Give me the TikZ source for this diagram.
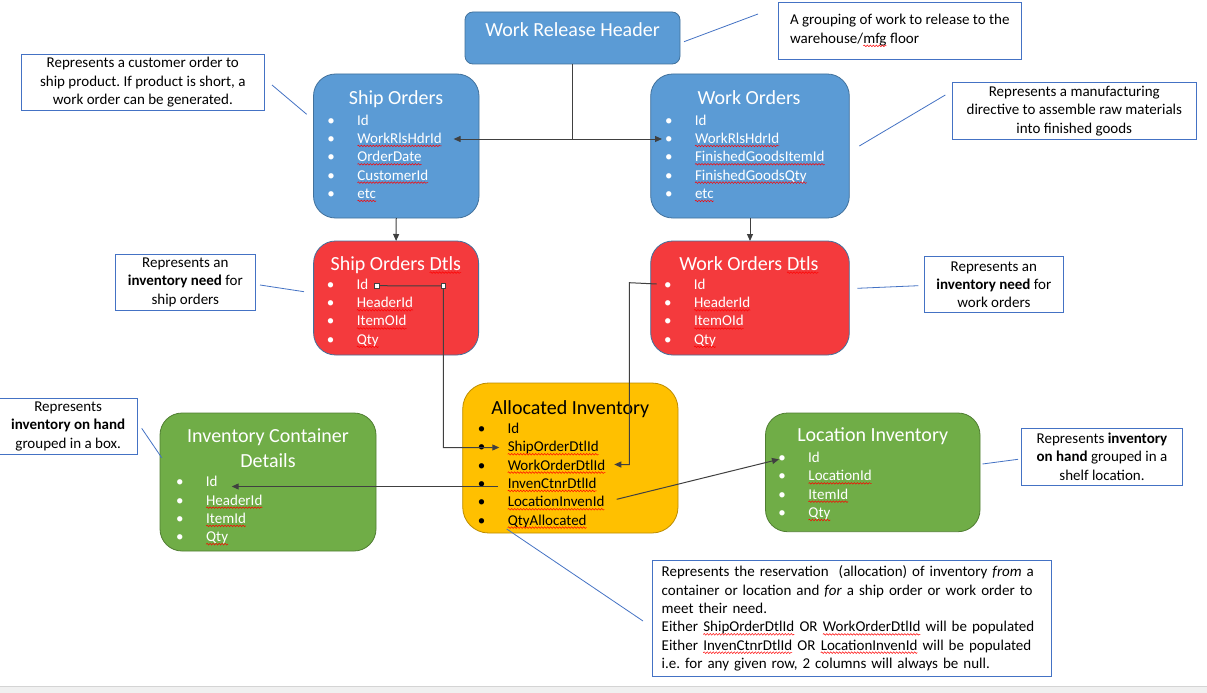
\documentclass[tikz,border=0pt]{standalone}
\usepackage{fontspec}
\setmainfont{Carlito}
\usetikzlibrary{arrows.meta,decorations.pathmorphing}
\frenchspacing
\definecolor{bfill}{HTML}{5B9BD5}
\definecolor{bline}{HTML}{41719C}
\definecolor{rfill}{HTML}{F43A3D}
\definecolor{yfill}{HTML}{FFC000}
\definecolor{yline}{HTML}{BC8C00}
\definecolor{gfill}{HTML}{70AD47}
\definecolor{gline}{HTML}{507E32}
\definecolor{cline}{HTML}{4472C4}
\definecolor{conn}{HTML}{404040}
\definecolor{barfill}{HTML}{F0F0F0}
\definecolor{barline}{HTML}{D4D4D4}
\newcommand\bodyf{\fontsize{15}{18.3}\selectfont}
\newcommand\titlef{\fontsize{20}{24.5}\selectfont}
\newcommand\bl{\llap{\makebox[0pt][c]{•}\hspace{26pt}}}
\tikzset{
  sqin/.style={inner sep=0pt,outer sep=0pt,anchor=base,draw=none,fill=none,shape=rectangle,minimum size=0pt,rounded corners=0pt},
  sqline/.style={draw=red,line width=0.5pt,decorate,decoration={snake,amplitude=0.8pt,segment length=3pt}},
}
\newcommand\sq[1]{\tikz[baseline=(sqw.base)]{\node[sqin](sqw){#1};\draw[sqline]([yshift=-2.6pt]sqw.base west)--([yshift=-2.6pt]sqw.base east);}}
\tikzset{
  ent/.style={draw,line width=0.8pt,rounded corners=22pt,anchor=north west,inner sep=0pt,outer sep=0pt},
  ttl/.style={anchor=base,inner sep=0pt,font=\titlef,text=white,align=center},
  itm/.style={anchor=base west,inner sep=0pt,font=\bodyf,text=white},
  callout/.style={draw=cline,line width=0.9pt,fill=white,font=\bodyf,align=center,inner sep=0pt,text=black},
  leader/.style={draw=cline,line width=0.8pt},
  cn/.style={draw=conn,line width=1pt},
  cna/.style={cn,-{Triangle[length=7pt,width=6pt]}},
  handle/.style={draw=conn,fill=white,line width=0.6pt,minimum size=4.5pt,inner sep=0pt},
}
\begin{document}
\begin{tikzpicture}[x=1pt,y=-1pt]
\useasboundingbox (0,0) rectangle (1207,693);
\fill[white] (0,0) rectangle (1207,693);
\fill[barfill] (0,686.7) rectangle (1207,693);
\draw[barline,line width=0.8pt] (0,686.7) -- (1207,686.7);

% ---------- Work Release Header
\node[ent,draw=bline,fill=bfill,rounded corners=8pt,minimum width=215pt,minimum height=52pt] (wrh) at (465,12) {};
\node[ttl] (wrh-t) at (572.5,36.7) {Work Release Header};

% ---------- Ship Orders
\node[ent,draw=bline,fill=bfill,minimum width=165.5pt,minimum height=144pt] (so) at (313.5,74) {};
\node[ttl] (so-t) at (396,104.3) {Ship Orders};
\node[itm] (so-1) at (357,125) {\bl Id};
\node[itm] (so-2) at (357,143.3) {\bl\sq{WorkRlsHdrId}};
\node[itm] (so-3) at (357,161.7) {\bl\sq{OrderDate}};
\node[itm] (so-4) at (357,180) {\bl\sq{CustomerId}};
\node[itm] (so-5) at (357,198.3) {\bl\sq{etc}};

% ---------- Work Orders
\node[ent,draw=bline,fill=bfill,minimum width=198.6pt,minimum height=144pt] (wo) at (650.7,74) {};
\node[ttl] (wo-t) at (749,104.3) {Work Orders};
\node[itm] (wo-1) at (694.6,125) {\bl Id};
\node[itm] (wo-2) at (694.6,143.3) {\bl\sq{WorkRlsHdrId}};
\node[itm] (wo-3) at (694.6,161.7) {\bl\sq{FinishedGoodsItemId}};
\node[itm] (wo-4) at (694.6,180) {\bl\sq{FinishedGoodsQty}};
\node[itm] (wo-5) at (694.6,198.3) {\bl\sq{etc}};

% ---------- Ship Orders Dtls
\node[ent,draw=bline,fill=rfill,minimum width=165pt,minimum height=114pt] (sod) at (313.6,241) {};
\node[ttl] (sod-t) at (396,270) {Ship Orders \sq{Dtls}};
\node[itm] (sod-1) at (356.4,289.3) {\bl Id};
\node[itm] (sod-2) at (356.4,307.6) {\bl\sq{HeaderId}};
\node[itm] (sod-3) at (356.4,325.9) {\bl\sq{ItemOId}};
\node[itm] (sod-4) at (356.4,344.2) {\bl\sq{Qty}};

% ---------- Work Orders Dtls
\node[ent,draw=bline,fill=rfill,minimum width=198.6pt,minimum height=114pt] (wod) at (650.7,241) {};
\node[ttl] (wod-t) at (749,270) {Work Orders \sq{Dtls}};
\node[itm] (wod-1) at (693.6,289.3) {\bl Id};
\node[itm] (wod-2) at (693.6,307.6) {\bl\sq{HeaderId}};
\node[itm] (wod-3) at (693.6,325.9) {\bl\sq{ItemOId}};
\node[itm] (wod-4) at (693.6,344.2) {\bl\sq{Qty}};

% ---------- Allocated Inventory
\node[ent,draw=yline,fill=yfill,rounded corners=26pt,minimum width=215.3pt,minimum height=150pt] (ai) at (462.7,383) {};
\node[ttl,text=black] (ai-t) at (570.3,414.3) {Allocated Inventory};
\node[itm,text=black] (ai-1) at (507.3,433.3) {\bl Id};
\node[itm,text=black] (ai-2) at (507.3,451.7) {\bl\sq{ShipOrderDtlId}};
\node[itm,text=black] (ai-3) at (507.3,470) {\bl\sq{WorkOrderDtlId}};
\node[itm,text=black] (ai-4) at (507.3,488.3) {\bl\sq{InvenCtnrDtlId}};
\node[itm,text=black] (ai-5) at (507.3,506.7) {\bl\sq{LocationInvenId}};
\node[itm,text=black] (ai-6) at (507.3,525) {\bl\sq{QtyAllocated}};

% ---------- Inventory Container Details
\node[ent,draw=gline,fill=gfill,minimum width=216pt,minimum height=138pt] (icd) at (160,413) {};
\node[ttl] (icd-t1) at (268,442.7) {Inventory Container};
\node[ttl] (icd-t2) at (268,467.3) {Details};
\node[itm] (icd-1) at (205.7,486.7) {\bl Id};
\node[itm] (icd-2) at (205.7,505) {\bl\sq{HeaderId}};
\node[itm] (icd-3) at (205.7,523.3) {\bl\sq{ItemId}};
\node[itm] (icd-4) at (205.7,541.6) {\bl\sq{Qty}};

% ---------- Location Inventory
\node[ent,draw=gline,fill=gfill,minimum width=214.5pt,minimum height=118.7pt] (li) at (765.5,413) {};
\node[ttl] (li-t) at (872.7,441.7) {Location Inventory};
\node[itm] (li-1) at (808,462.3) {\bl Id};
\node[itm] (li-2) at (808,480.8) {\bl\sq{LocationId}};
\node[itm] (li-3) at (808,499.1) {\bl\sq{ItemId}};
\node[itm] (li-4) at (808,517.4) {\bl\sq{Qty}};

% ---------- Callouts
\node[callout,minimum width=243pt,minimum height=55.7pt] (c1) at (142.8,82.2)
  {Represents a customer order to\\ship product. If product is short, a\\work order can be generated.};
\node[callout,minimum width=242.4pt,minimum height=57.3pt,align=left] (c2) at (899.8,30.7)
  {A grouping of work to release to the\\warehouse/\sq{mfg} floor};
\node[callout,minimum width=243.3pt,minimum height=56.6pt] (c3) at (1074.3,111)
  {Represents a manufacturing\\directive to assemble raw materials\\into finished goods};
\node[callout,minimum width=140pt,minimum height=55.7pt] (c4) at (185.3,282.2)
  {Represents an\\\textbf{inventory need} for\\ship orders};
\node[callout,minimum width=139pt,minimum height=56pt] (c5) at (993.8,284.7)
  {Represents an\\\textbf{inventory need} for\\work orders};
\node[callout,minimum width=138.3pt,minimum height=56pt] (c6) at (68.2,426.3)
  {Represents\\\textbf{inventory on hand}\\grouped in a box.};
\node[callout,minimum width=161pt,minimum height=56.7pt] (c7) at (1102,456.7)
  {Represents \textbf{inventory}\\\textbf{on hand} grouped in a\\shelf location.};
\node[callout,minimum width=399pt,minimum height=115.3pt,align=left,text width=381pt,inner xsep=9pt] (c8) at (852.2,618.4)
  {Represents the reservation~ (allocation) of inventory \textit{from} a\\container or location and \textit{for} a ship order or work order to\\meet their need.\\Either \sq{ShipOrderDtlId} OR \sq{WorkOrderDtlId} will be populated\\Either \sq{InvenCtnrDtlId} OR \sq{LocationInvenId} will be populated\\i.e. for any given row, 2 columns will always be null.};

% ---------- Leader lines
\coordinate (l1a) at (272,85);      \coordinate (l1b) at (306.7,114.3);
\coordinate (l2a) at (684,41.7);    \coordinate (l2b) at (758,14);
\coordinate (l3a) at (859.3,146);   \coordinate (l3b) at (945.3,95);
\coordinate (l4a) at (260,285);     \coordinate (l4b) at (304,291.7);
\coordinate (l5a) at (857.3,288.3); \coordinate (l5b) at (918.3,285.7);
\coordinate (l6a) at (141.7,428.3); \coordinate (l6b) at (161.7,457.7);
\coordinate (l7a) at (982.5,464);   \coordinate (l7b) at (1018,459.3);
\coordinate (l8a) at (506.7,529);   \coordinate (l8b) at (643,621);
\draw[leader] (l1a) -- (l1b);
\draw[leader] (l2a) -- (l2b);
\draw[leader] (l3a) -- (l3b);
\draw[leader] (l4a) -- (l4b);
\draw[leader] (l5a) -- (l5b);
\draw[leader] (l6a) -- (l6b);
\draw[leader] (l7a) -- (l7b);
\draw[leader] (l8a) -- (l8b);

% ---------- Connectors
\coordinate (j) at (572.5,139);
\coordinate (so-in) at (453.6,139);
\coordinate (wo-in) at (662,139);
\draw[cn] (wrh.south) -- (j);
\draw[cna] (j) -- (so-in);
\draw[cna] (j) -- (wo-in);
\draw[cna] (so.south) -- (sod.north);
\draw[cna] (wo.south) -- (wod.north);

\coordinate (s1) at (377,285.7);
\coordinate (s2) at (443.3,286);
\coordinate (s3) at (443.3,447.5);
\coordinate (ai-2in) at (499.3,447.5);
\draw[cna] (s1) -- (s2) -- (s3) -- (ai-2in);
\node[handle] (h1) at (s1) {};
\node[handle] (h2) at (s2) {};

\coordinate (w1) at (656.7,284);
\coordinate (w2) at (629.3,282.7);
\coordinate (w3) at (629.3,464.5);
\coordinate (ai-3in) at (614.3,464.5);
\draw[cna] (w1) -- (w2) -- (w3) -- (ai-3in);

\coordinate (i1) at (498,486.5);
\coordinate (icd-in) at (231.7,486.5);
\draw[cna] (i1) -- (icd-in);

\coordinate (k1) at (616.7,499.3);
\coordinate (li-in) at (779,459.3);
\draw[cna] (k1) -- (li-in);
\end{tikzpicture}
\end{document}
